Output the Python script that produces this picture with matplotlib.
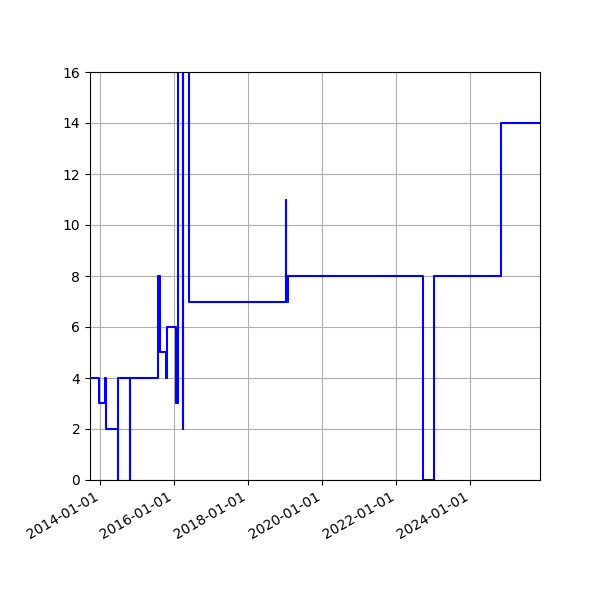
import matplotlib
matplotlib.use("Agg")
import matplotlib.pyplot as plt
import matplotlib.dates as mdates
import pandas as pd

dates = ["2013-09-20","2013-12-15","2014-02-15","2014-03-01","2014-06-25","2014-06-27",
         "2014-10-20","2014-10-22","2015-07-27","2015-08-15","2015-10-15","2015-10-17",
         "2016-01-18","2016-02-10","2016-03-28","2016-03-30","2016-05-22","2019-01-07",
         "2019-01-10","2019-01-26","2022-09-24","2023-01-07","2024-10-30","2025-11-18"]
values = [4,3,4,2,0,4,0,4,8,5,4,6,3,20,2,20,7,11,7,8,0,8,14,14]

x = pd.to_datetime(dates)
fig, ax = plt.subplots(figsize=(6,6), dpi=100)
ax.plot(x, values, drawstyle="steps-post", color="blue")
ax.set_xlim(x[0], x[-1])
ax.set_ylim(0, 16)
ax.xaxis.set_major_locator(mdates.YearLocator(2))
ax.xaxis.set_major_formatter(mdates.DateFormatter("%Y-%m-%d"))
ax.grid(True)
ax.set_box_aspect(None)
fig.autofmt_xdate()
fig.subplots_adjust(left=0.15, right=0.9, top=0.88, bottom=0.2)
fig.savefig("out.png")
